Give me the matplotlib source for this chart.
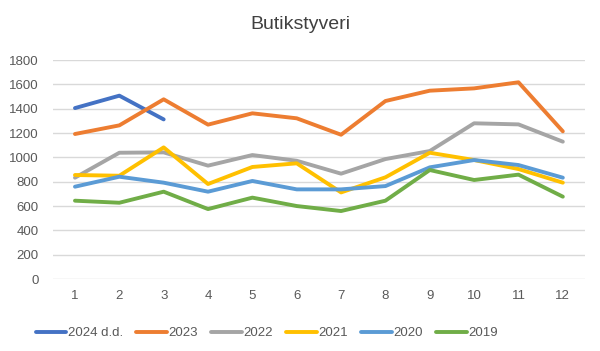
import matplotlib.pyplot as plt
import numpy as np

plt.rcParams['font.family'] = ['Liberation Sans', 'DejaVu Sans']

# months
months = np.arange(1, 13)

# butikstyveri per month and year
y2024 = [1405, 1507, 1312]
y2023 = [1192, 1263, 1477, 1269, 1362, 1321, 1186, 1463, 1548, 1567, 1617, 1214]
y2022 = [833, 1038, 1041, 932, 1019, 972, 866, 986, 1052, 1280, 1271, 1129]
y2021 = [855, 849, 1082, 781, 921, 951, 712, 836, 1038, 978, 904, 792]
y2020 = [759, 841, 792, 718, 806, 737, 737, 764, 918, 978, 937, 833]
y2019 = [644, 627, 718, 575, 669, 600, 559, 644, 896, 814, 858, 677]

labels = ['2024 d.d.', '2023', '2022', '2021', '2020', '2019']
colors = ['#4472C4', '#ED7D31', '#A5A5A5', '#FFC000', '#5B9BD5', '#70AD47']
series = [y2024, y2023, y2022, y2021, y2020, y2019]

fig = plt.figure(figsize=(6, 3.51), dpi=100)
ax = fig.add_axes([0.088, 0.205, 0.887, 0.624])

for vals, lab, col in zip(series, labels, colors):
    ax.plot(months[:len(vals)], vals, color=col, lw=2.8, label=lab,
            solid_capstyle='round', solid_joinstyle='round')

ax.set_xlim(0.5, 12.5)
ax.set_ylim(0, 1800)
ax.set_xticks(months)
ax.set_yticks(np.arange(0, 1801, 200))
ax.grid(axis='y', color='#D9D9D9', lw=1)
ax.set_axisbelow(True)
for s in ax.spines.values():
    s.set_visible(False)
ax.tick_params(length=0, colors='#595959', labelsize=9.5)
ax.tick_params(axis='x', pad=8)
ax.tick_params(axis='y', pad=10)

fig.suptitle('Butikstyveri', x=0.5, y=0.955, fontsize=14, color='#404040')

fig.legend(loc='lower center', bbox_to_anchor=(0.445, 0.0), ncol=6, frameon=False,
           fontsize=9.5, handlelength=2.3, handletextpad=0.15, columnspacing=1.0,
           labelcolor='#595959')

fig.savefig('out.png', dpi=100)
